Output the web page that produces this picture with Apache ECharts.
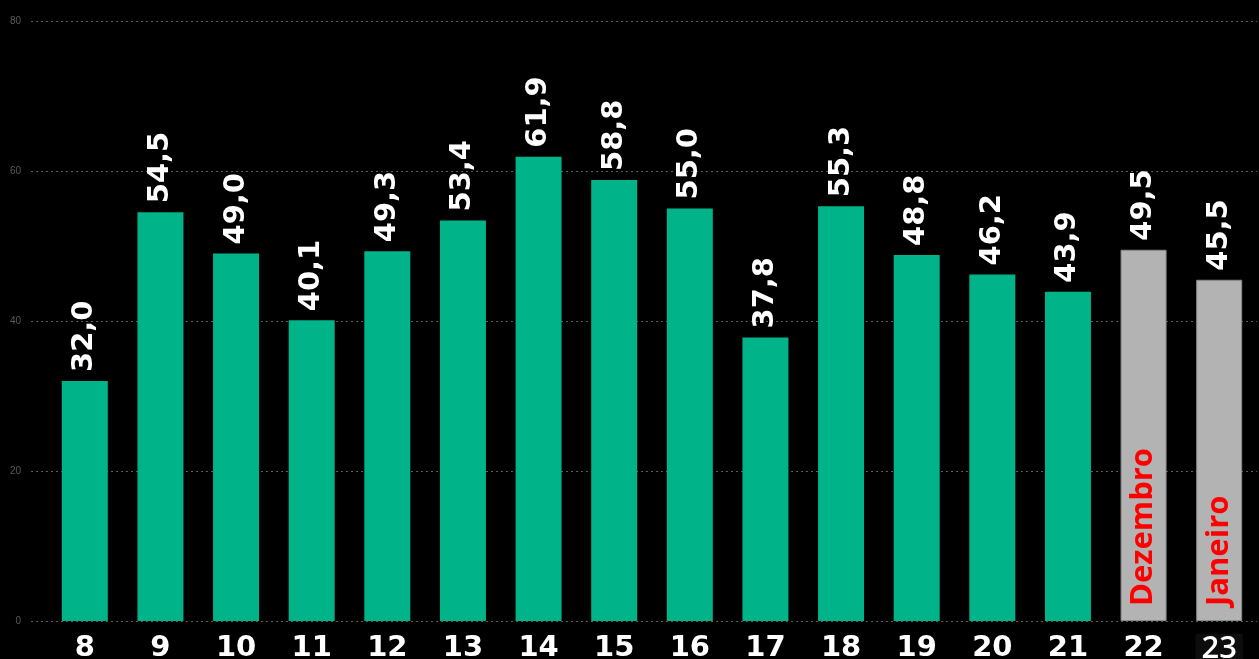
<!DOCTYPE html>
<html>
<head>
<meta charset="utf-8">
<script src="https://cdn.jsdelivr.net/npm/echarts@6/dist/echarts.min.js"></script>
<style>
  html, body { margin: 0; padding: 0; background: #000; }
  #main { width: 1259px; height: 659px; }
</style>
</head>
<body>
<div id="main"></div>
<script>
// semanas epidemiologicas
var weeks = ['8', '9', '10', '11', '12', '13', '14', '15', '16', '17', '18', '19', '20', '21', '22', '23'];
var values = [32.0, 54.5, 49.0, 40.1, 49.3, 53.4, 61.9, 58.8, 55.0, 37.8, 55.3, 48.8, 46.2, 43.9, 49.5, 45.5];
// meses marcados nas barras cinzas
var months = ['', '', '', '', '', '', '', '', '', '', '', '', '', '', 'Dezembro', 'Janeiro'];
var yTicks = [0, 20, 40, 60, 80];

var GREEN = '#00b388';
var GRAY = '#b3b3b3';

var chart = echarts.init(document.getElementById('main'));

var mainData = values.map(function (v, i) {
  return {
    value: v,
    itemStyle: months[i] ? { color: GRAY, borderColor: '#8a8a8a', borderWidth: 1 } : { color: GREEN }
  };
});
// camada so para o texto do mes dentro das barras cinzas
var monthData = values.map(function (v, i) {
  return months[i] ? { value: v, name: months[i] } : { value: '-' };
});

chart.setOption({
  backgroundColor: '#000',
  animation: false,
  grid: [
    { left: 31, right: 2, top: 21, bottom: 38, outerBoundsMode: 'none' },
    { left: 47, right: 2, top: 21, bottom: 38, outerBoundsMode: 'none' }
  ],
  xAxis: [
    { gridIndex: 0, type: 'value', min: 0, max: 1, show: false },
    {
      gridIndex: 1,
      type: 'category',
      data: weeks,
      axisLine: { show: false },
      axisTick: { show: false },
      axisLabel: {
        interval: 0,
        margin: 13,
        color: '#fff',
        fontFamily: 'DejaVu Sans',
        fontWeight: 'bold',
        fontSize: 29,
        formatter: function (v, i) {
          return i === weeks.length - 1 ? '{last|' + v + '}' : v;
        },
        rich: {
          last: {
            color: '#fff',
            fontFamily: 'Open Sans',
            fontWeight: 600,
            fontSize: 31,
            backgroundColor: '#0d0d0d',
            padding: [0, 6, 0, 6]
          }
        }
      }
    }
  ],
  yAxis: [
    {
      gridIndex: 0,
      type: 'value',
      min: yTicks[0],
      max: yTicks[yTicks.length - 1],
      interval: 20,
      axisLine: { show: false },
      axisTick: { show: false },
      axisLabel: { color: '#5a5a5a', fontSize: 10, fontFamily: 'Liberation Sans', margin: 10 },
      splitLine: { lineStyle: { color: '#5c5c5c', type: [2, 3], width: 1 } }
    },
    {
      gridIndex: 1,
      type: 'value',
      min: yTicks[0],
      max: yTicks[yTicks.length - 1],
      interval: 20,
      show: false,
      splitLine: { show: false }
    }
  ],
  series: [
    {
      type: 'bar',
      xAxisIndex: 1,
      yAxisIndex: 1,
      barWidth: 46,
      data: mainData,
      label: {
        show: true,
        position: 'top',
        distance: 9,
        rotate: 90,
        align: 'left',
        verticalAlign: 'middle',
        color: '#fff',
        fontFamily: 'DejaVu Sans',
        fontWeight: 'bold',
        fontSize: 29,
        formatter: function (p) { return p.value.toFixed(1).replace('.', ','); }
      }
    },
    {
      type: 'bar',
      xAxisIndex: 1,
      yAxisIndex: 1,
      barWidth: 46,
      barGap: '-100%',
      silent: true,
      itemStyle: { color: 'rgba(0,0,0,0)' },
      data: monthData,
      label: {
        show: true,
        position: 'insideBottom',
        distance: 15,
        rotate: 90,
        align: 'left',
        verticalAlign: 'middle',
        color: '#ff0000',
        fontFamily: 'Open Sans',
        fontWeight: 'bold',
        fontSize: 31,
        formatter: function (p) { return p.name; }
      }
    }
  ]
});
</script>
</body>
</html>
